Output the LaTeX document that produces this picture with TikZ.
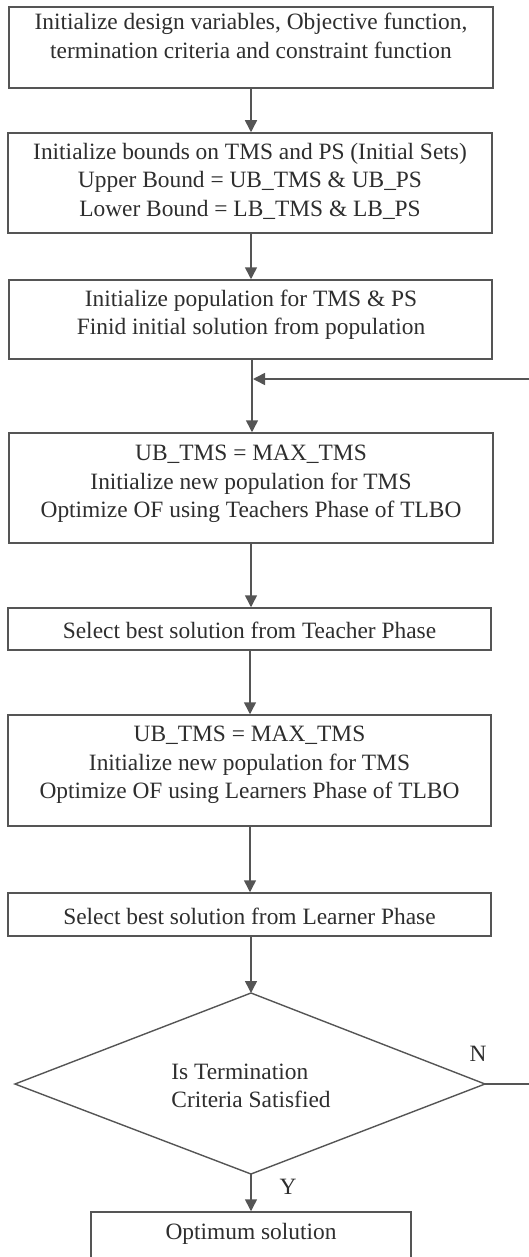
\documentclass[tikz,border=0pt]{standalone}
\usepackage{fontspec}
\setmainfont{Liberation Serif}
\usetikzlibrary{arrows.meta}
\definecolor{ink}{HTML}{2E2E2E}
\definecolor{edge}{HTML}{555555}
\begin{document}
\begin{tikzpicture}[x=1pt,y=-1pt,
  stepbox/.style={draw=edge, line width=1.5pt, fill=white, inner sep=0pt},
  txt/.style={text=ink, align=center, inner sep=0pt,
    font=\fontsize{23.4}{28.5}\selectfont},
  flow/.style={draw=edge, line width=1.5pt,
    -{Triangle[width=12pt,length=12pt]}},
  plain/.style={draw=edge, line width=1.4pt}]
\useasboundingbox (0,0) rectangle (528,1257);

% process boxes
\node[stepbox, minimum width=484pt, minimum height=81pt]  (b1) at (251,47.5) {};
\node[stepbox, minimum width=484pt, minimum height=100pt] (b2) at (250,183) {};
\node[stepbox, minimum width=483pt, minimum height=79pt]  (b3) at (250.5,319.5) {};
\node[stepbox, minimum width=484pt, minimum height=110pt] (b4) at (251,488) {};
\node[stepbox, minimum width=483pt, minimum height=42pt]  (b5) at (249.5,629) {};
\node[stepbox, minimum width=483pt, minimum height=111pt] (b6) at (249.5,770.5) {};
\node[stepbox, minimum width=483pt, minimum height=43pt]  (b7) at (249.5,914.5) {};
\node[stepbox, minimum width=320pt, minimum height=52pt]  (b8) at (251,1238) {};

% decision
\coordinate (dt) at (251,993);
\coordinate (dl) at (15,1084);
\coordinate (dr) at (485,1084);
\coordinate (db) at (251,1174);
\draw[plain, line join=miter] (dt) -- (dr) -- (db) -- (dl) -- cycle;

% texts
\node[txt] (t1) at (251,36) {Initialize design variables, Objective function,\\termination criteria and constraint function};
\node[txt] (t2) at (250,181) {Initialize bounds on TMS and PS (Initial Sets)\\Upper Bound = UB\_TMS \& UB\_PS\\Lower Bound = LB\_TMS \& LB\_PS};
\node[txt] (t3) at (251,315) {Initialize population for TMS \& PS\\Finid initial solution from population};
\node[txt] (t4) at (251,484) {UB\_TMS = MAX\_TMS\\Initialize new population for TMS\\Optimize OF using Teachers Phase of TLBO};
\node[txt] (t5) at (249.5,630) {Select best solution from Teacher Phase};
\node[txt] (t6) at (249.5,765) {UB\_TMS = MAX\_TMS\\Initialize new population for TMS\\Optimize OF using Learners Phase of TLBO};
\node[txt] (t7) at (249.5,916) {Select best solution from Learner Phase};
\node[txt, align=left] (t8) at (251,1086) {Is Termination\\Criteria Satisfied};
\node[txt] (t9) at (251,1234) {Optimum solution};
\node[txt] (ln) at (478,1054) {N};
\node[txt] (ly) at (288,1187) {Y};

% connectors
\draw[flow] (b1.south -| 251,0) -- (b2.north -| 251,0);
\draw[flow] (b2.south -| 251,0) -- (b3.north -| 251,0);
\draw[flow] (b3.south -| 252,0) -- (b4.north -| 252,0);
\draw[flow] (b4.south -| 251,0) -- (b5.north -| 251,0);
\draw[flow] (b5.south -| 250,0) -- (b6.north -| 250,0);
\draw[flow] (b6.south -| 250,0) -- (b7.north -| 250,0);
\draw[flow] (b7.south -| dt) -- (dt);
\draw[flow] (db) -- (b8.north -| db);

% loop back when the criteria are not met
\coordinate (fb1) at (530,1084);
\coordinate (fb2) at (530,379);
\coordinate (fb3) at (253,379);
\draw[flow] (dr) -- (fb1) -- (fb2) -- (fb3);
\end{tikzpicture}
\end{document}
